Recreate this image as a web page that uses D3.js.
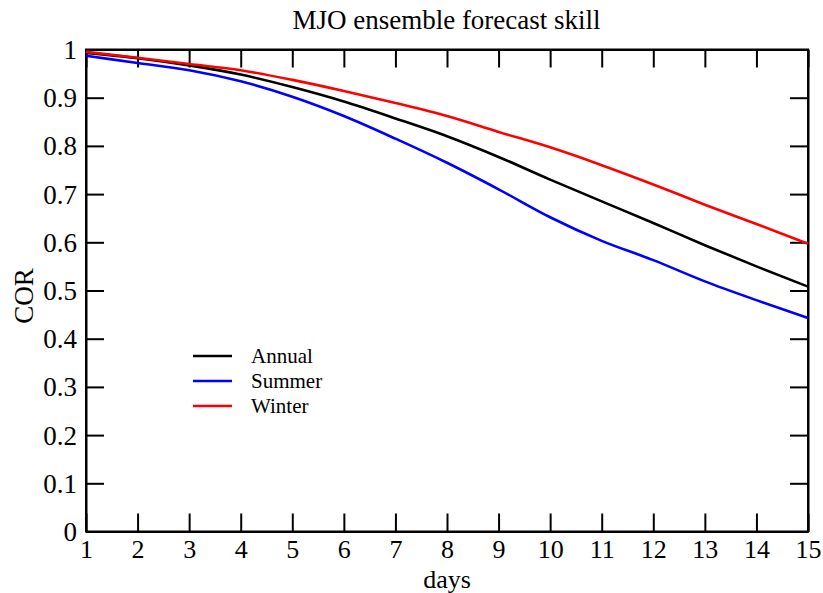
<!DOCTYPE html>
<html>
<head>
<meta charset="utf-8">
<script src="https://cdn.jsdelivr.net/npm/d3@7"></script>
<style>
  html, body { margin: 0; padding: 0; background: #fff; }
  svg { display: block; }
  text { font-family: "Liberation Serif", "DejaVu Serif", serif; fill: #000; }
</style>
</head>
<body>
<svg id="chart" width="823" height="593"></svg>
<script>
// Forecast lead time (days) and correlation skill per season
const days = [1, 2, 3, 4, 5, 6, 7, 8, 9, 10, 11, 12, 13, 14, 15];
const annual = [0.993, 0.982, 0.967, 0.948, 0.922, 0.892, 0.857, 0.820, 0.777, 0.730, 0.685, 0.640, 0.594, 0.550, 0.508];
const summer = [0.987, 0.972, 0.957, 0.934, 0.902, 0.862, 0.815, 0.765, 0.710, 0.652, 0.603, 0.563, 0.519, 0.480, 0.443];
const winter = [0.995, 0.983, 0.970, 0.957, 0.937, 0.914, 0.889, 0.862, 0.829, 0.797, 0.760, 0.720, 0.678, 0.638, 0.597];
const seriesNames = ["Annual", "Summer", "Winter"];
const seriesColors = ["#000000", "#0000ff", "#ff0000"];
const xTicks = days;
const yTicks = [0, 0.1, 0.2, 0.3, 0.4, 0.5, 0.6, 0.7, 0.8, 0.9, 1];

const series = [annual, summer, winter].map((vals, i) => ({
  name: seriesNames[i], color: seriesColors[i],
  points: vals.map((v, j) => ({ x: days[j], y: v }))
}));

const svg = d3.select("#chart");
const plotLeft = 86, plotRight = 808, plotTop = 49.5, plotBottom = 531.5;
const fontMain = "27px";
const fontTick = "26px";

const x = d3.scaleLinear().domain([1, 15]).range([plotLeft, plotRight]);
const y = d3.scaleLinear().domain([0, 1]).range([plotBottom, plotTop]);

const tickLen = 18;
const tickFmt = d => d === 0 || d === 1 ? String(d) : d3.format(".1f")(d);

// Bottom axis with labels, ticks pointing inward
const gx = svg.append("g").attr("transform", `translate(0,${plotBottom})`)
  .call(d3.axisBottom(x).tickValues(xTicks).tickSizeInner(-tickLen).tickSizeOuter(0).tickPadding(8).tickFormat(d3.format("d")));
// Top axis: ticks only
const gxt = svg.append("g").attr("transform", `translate(0,${plotTop})`)
  .call(d3.axisTop(x).tickValues(xTicks).tickSizeInner(-tickLen).tickSizeOuter(0).tickFormat(""));
// Left axis with labels
const gy = svg.append("g").attr("transform", `translate(${plotLeft},0)`)
  .call(d3.axisLeft(y).tickValues(yTicks).tickSizeInner(-tickLen).tickSizeOuter(0).tickPadding(9).tickFormat(tickFmt));
// Right axis: ticks only
const gyr = svg.append("g").attr("transform", `translate(${plotRight},0)`)
  .call(d3.axisRight(y).tickValues(yTicks).tickSizeInner(-tickLen).tickSizeOuter(0).tickFormat(""));

[gx, gxt, gy, gyr].forEach(g => {
  g.select(".domain").attr("stroke", "#000").attr("stroke-width", 2);
  g.selectAll(".tick line").attr("stroke", "#000").attr("stroke-width", 2);
  g.selectAll(".tick text")
    .style("font-family", '"Liberation Serif", serif')
    .style("font-size", fontTick)
    .attr("fill", "#000");
});
gy.selectAll(".tick text").style("font-size", fontMain).attr("dy", "0.33em");
gx.selectAll(".tick text").attr("dy", "0.71em");

// Frame edges
svg.append("rect")
  .attr("x", plotLeft).attr("y", plotTop)
  .attr("width", plotRight - plotLeft).attr("height", plotBottom - plotTop)
  .attr("fill", "none").attr("stroke", "#000").attr("stroke-width", 2);

// Data lines
const line = d3.line().x(d => x(d.x)).y(d => y(d.y)).curve(d3.curveMonotoneX);
svg.append("g").selectAll("path").data(series).join("path")
  .attr("d", d => line(d.points))
  .attr("fill", "none")
  .attr("stroke", d => d.color)
  .attr("stroke-width", 2.6)
  .attr("stroke-linejoin", "round");

// Title and axis titles
svg.append("text").attr("x", 446.5).attr("y", 29)
  .attr("text-anchor", "middle").style("font-size", fontMain)
  .text("MJO ensemble forecast skill");
svg.append("text").attr("x", 447).attr("y", 588)
  .attr("text-anchor", "middle").style("font-size", fontTick)
  .text("days");
svg.append("text")
  .attr("transform", "translate(33,296) rotate(-90)")
  .attr("text-anchor", "middle").style("font-size", fontMain)
  .text("COR");

// Legend
const legend = svg.append("g").attr("transform", "translate(193,356)");
const items = legend.selectAll("g").data(series).join("g")
  .attr("transform", (d, i) => `translate(0,${i * 25})`);
items.append("line").attr("x1", 0).attr("x2", 39).attr("y1", 0).attr("y2", 0)
  .attr("stroke", d => d.color).attr("stroke-width", 2.6);
items.append("text").attr("x", 58).attr("y", 0).attr("dy", "0.35em")
  .style("font-size", "21px").text(d => d.name);
</script>
</body>
</html>
